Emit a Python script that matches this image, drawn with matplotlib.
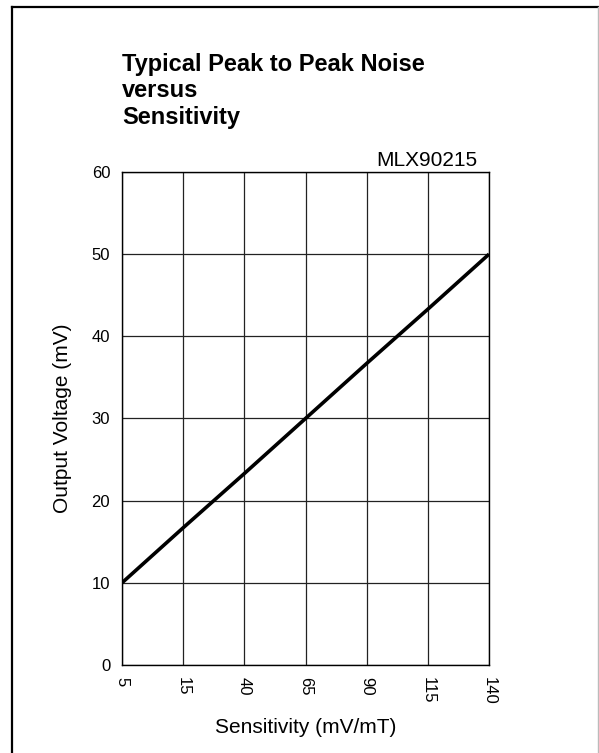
import matplotlib
matplotlib.use("Agg")
import matplotlib.pyplot as plt
from matplotlib.lines import Line2D

plt.rcParams['font.family'] = ['Liberation Sans', 'DejaVu Sans']

sensitivity = ["5", "15", "40", "65", "90", "115", "140"]
noise_mv = [10, 16.7, 23.3, 30, 36.7, 43.3, 50]
y_ticks = [0, 10, 20, 30, 40, 50, 60]

fig = plt.figure(figsize=(5.99, 7.53), dpi=100)
ax = fig.add_axes([0.2037, 0.1169, 0.6127, 0.6547])

x = list(range(len(sensitivity)))
ax.plot(x, noise_mv, color="black", linewidth=2.6, solid_capstyle="butt", zorder=3)

ax.set_xlim(0, len(sensitivity) - 1)
ax.set_ylim(0, 60)
ax.set_xticks(x)
ax.set_xticklabels(sensitivity, rotation=-90, fontsize=12)
ax.set_yticks(y_ticks)
ax.set_yticklabels([str(v) for v in y_ticks], fontsize=12)
ax.tick_params(length=0, pad=8.5)
ax.grid(True, color="#222222", linewidth=0.9)
ax.set_axisbelow(True)
for s in ax.spines.values():
    s.set_linewidth(1.0)

ax.set_xlabel("Sensitivity (mV/mT)", fontsize=15, labelpad=10)
ax.set_ylabel("Output Voltage (mV)", fontsize=15, labelpad=14)

ax.text(0.968, 1.012, "MLX90215", transform=ax.transAxes, ha="right",
        va="baseline", fontsize=15)

fig.text(0.2037, 0.930, "Typical Peak to Peak Noise\nversus\nSensitivity",
         ha="left", va="top", fontsize=17, fontweight="bold", linespacing=1.2)

# outer frame
fig.add_artist(Line2D([12 / 599, 12 / 599], [0, 1 - 7 / 753], color="black", linewidth=1.6))
fig.add_artist(Line2D([12 / 599, 1], [1 - 7 / 753, 1 - 7 / 753], color="black", linewidth=1.6))
fig.add_artist(Line2D([598 / 599, 598 / 599], [0, 1 - 7 / 753], color="#bbbbbb", linewidth=1.0))

fig.savefig("out.png", dpi=100)
